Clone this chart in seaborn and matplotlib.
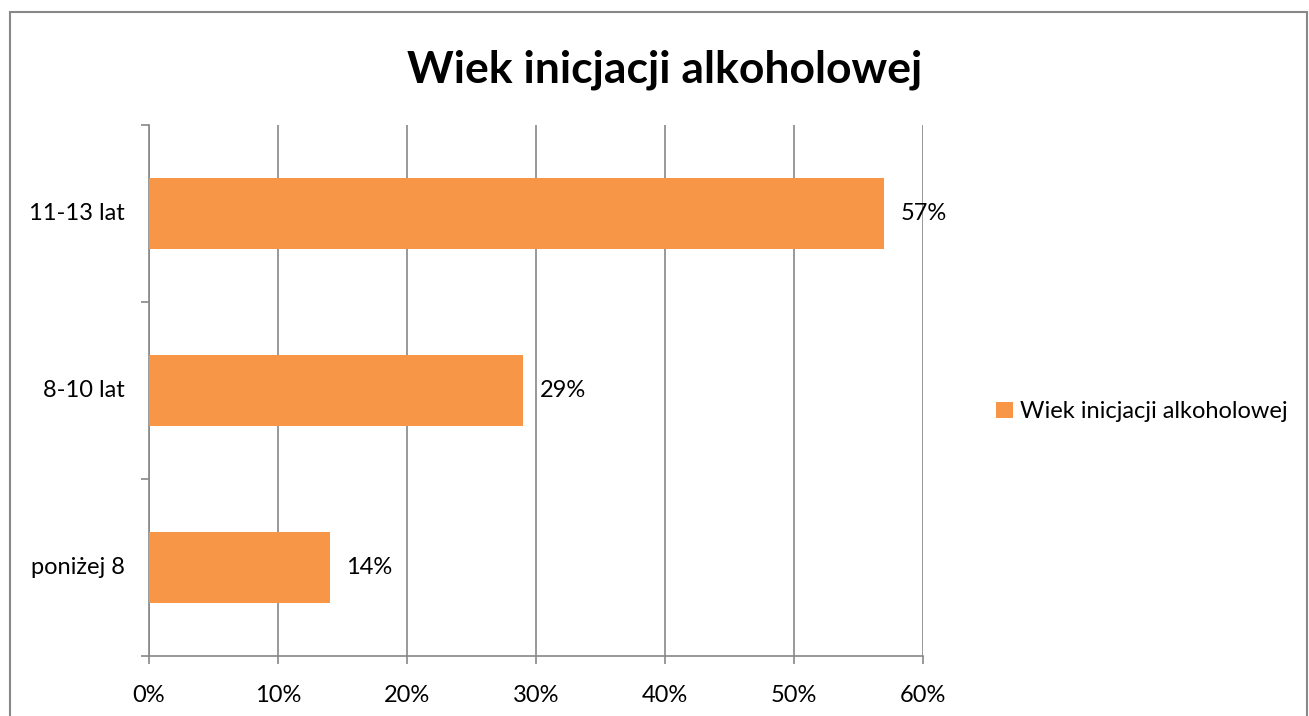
import pandas as pd
import seaborn as sns
import matplotlib.pyplot as plt
from matplotlib.patches import Rectangle

categories = ['11-13 lat', '8-10 lat', 'poniżej 8']
values = [0.57, 0.29, 0.14]
series_name = 'Wiek inicjacji alkoholowej'
x_ticks = [0, 0.1, 0.2, 0.3, 0.4, 0.5, 0.6]

df = pd.DataFrame({'kategoria': categories, 'wartosc': values, 'seria': series_name})

sns.set_style('white')
plt.rcParams['font.family'] = ['Lato', 'DejaVu Sans']
plt.rcParams['text.color'] = 'black'
plt.rcParams['xtick.color'] = 'black'
plt.rcParams['ytick.color'] = 'black'

fig = plt.figure(figsize=(13.09, 7.16), dpi=100)
ax = fig.add_axes([0.1138, 0.0838, 0.5913, 0.7416])

sns.barplot(data=df, x='wartosc', y='kategoria', hue='seria', orient='h',
            palette=['#F79646'], width=0.4, ax=ax, zorder=3, saturation=1,
            linewidth=0)

ax.set_xlim(0, 0.6)
ax.set_ylim(2.5, -0.5)
ax.set_xticks(x_ticks)
ax.set_xticklabels([f'{int(round(t * 100))}%' for t in x_ticks], fontsize=17)
ax.set_yticks([])
ax.set_yticks([-0.5, 0.5, 1.5, 2.5], minor=True)
ax.tick_params(axis='y', which='minor', left=True, length=6, color='#888888', width=1.2)
ax.tick_params(axis='x', bottom=True, length=6, color='#888888', width=1.2, pad=15,
               labelcolor='black')
for i, c in enumerate(categories):
    ax.text(-0.0185, i, c, ha='right', va='center', fontsize=17,
            transform=ax.transData)
ax.set_xlabel('')
ax.set_ylabel('')
ax.grid(axis='x', color='#888888', linewidth=1.2, zorder=0)
for s in ['top', 'right']:
    ax.spines[s].set_visible(False)
for s in ['left', 'bottom']:
    ax.spines[s].set_color('#888888')
    ax.spines[s].set_linewidth(1.2)

for i, v in enumerate(values):
    ax.text(v + 0.013, i, f'{int(round(v * 100))}%', ha='left', va='center', fontsize=17)

fig.text(0.508, 0.902, 'Wiek inicjacji alkoholowej', ha='center', va='center',
         fontsize=32, fontweight='bold')

handles, labels = ax.get_legend_handles_labels()
ax.legend(handles, labels, loc='center left', bbox_to_anchor=(0.745, 0.425),
          bbox_transform=fig.transFigure, frameon=False, fontsize=17,
          handlelength=0.7, handleheight=0.7, handletextpad=0.3)

fig.patches.append(Rectangle((10 / 1309, -0.01), 1297 / 1309, (716 - 12) / 716 + 0.01,
                             transform=fig.transFigure, fill=False,
                             edgecolor='#888888', linewidth=1.5))

fig.savefig('out.png', dpi=100)
